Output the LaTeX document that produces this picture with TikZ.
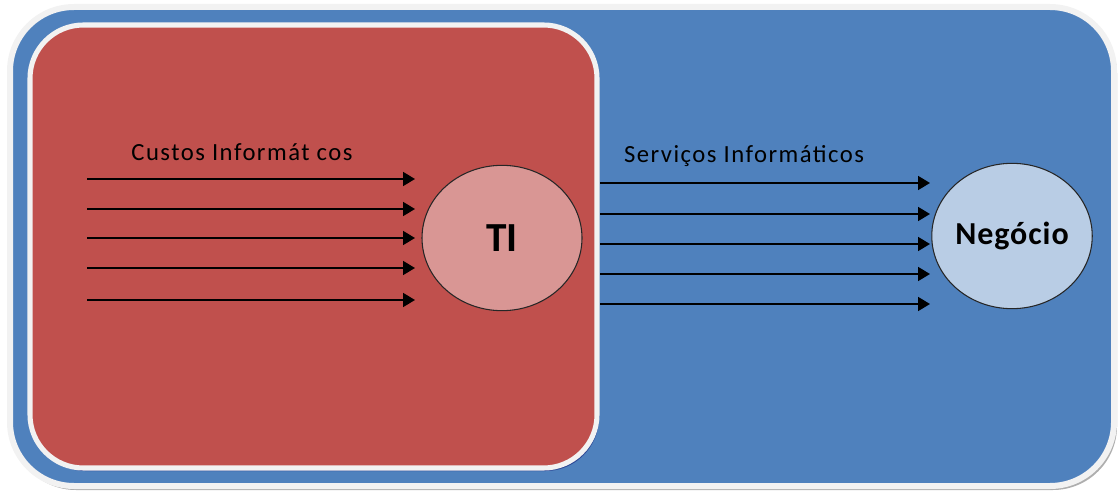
\documentclass[tikz,border=0pt]{standalone}
\usepackage{fontspec}
\setmainfont{Carlito}
\usetikzlibrary{shapes.geometric,arrows.meta}
\definecolor{azul}{HTML}{4F81BD}
\definecolor{vermelho}{HTML}{C0504D}
\definecolor{rosa}{HTML}{D99694}
\definecolor{azulclaro}{HTML}{B9CDE5}
\definecolor{borda}{HTML}{F2F2F2}
\begin{document}
\begin{tikzpicture}[x=0.75pt,y=-0.75pt]
    % Estilos
    \tikzset{
        caixa/.style={draw=borda, line width=4.5pt, rounded corners=48pt},
        sombra/.style={fill=black!70, opacity=0.45, rounded corners=48pt},
        circulo/.style={ellipse, draw=black!85, line width=0.8pt, minimum width=120pt, minimum height=109pt, inner sep=0pt, font=\bfseries},
        rotulo/.style={font=\fontsize{18.5}{22}\selectfont\addfontfeatures{LetterSpace=6}},
        seta/.style={-{Triangle[length=9pt,width=10.5pt]}, line width=1.3pt, draw=black}
    }
    \useasboundingbox (0,0) rectangle (1119,495);

    % Caixas
    \fill[sombra] (12,10) rectangle (1117,490);
    \draw[caixa, fill=azul] (10,7) rectangle (1114,486);
    \fill[sombra, rounded corners=40pt, fill=black!60!blue] (32,28) rectangle (599,471);
    \draw[caixa, fill=vermelho, line width=3.8pt, rounded corners=40pt] (30,25) rectangle (597,468);

    % Nos
    \node[circulo, fill=rosa, font=\bfseries\fontsize{31}{34}\selectfont] (ti) at (502,238) {TI};
    \node[circulo, fill=azulclaro, font=\bfseries\fontsize{24}{28}\selectfont\addfontfeatures{LetterSpace=3}] (negocio) at (1012,236) {Negócio};
    \node[rotulo] (custos) at (242,152) {Custos Informát cos};
    \node[rotulo] (servicos) at (744,156) {Serviços Informáticos};

    % Custos (entrada)
    \coordinate (c1) at (87,179);  \coordinate (t1) at (415,179);
    \coordinate (c2) at (87,209);  \coordinate (t2) at (415,209);
    \coordinate (c3) at (87,238);  \coordinate (t3) at (415,238);
    \coordinate (c4) at (87,268);  \coordinate (t4) at (415,268);
    \coordinate (c5) at (87,300);  \coordinate (t5) at (415,300);
    \draw[seta] (c1) -- (t1);
    \draw[seta] (c2) -- (t2);
    \draw[seta] (c3) -- (t3);
    \draw[seta] (c4) -- (t4);
    \draw[seta] (c5) -- (t5);

    % Servicos (saida)
    \coordinate (s1) at (600,183);  \coordinate (n1) at (930,183);
    \coordinate (s2) at (600,214);  \coordinate (n2) at (930,214);
    \coordinate (s3) at (600,244);  \coordinate (n3) at (930,244);
    \coordinate (s4) at (600,274);  \coordinate (n4) at (930,274);
    \coordinate (s5) at (600,304);  \coordinate (n5) at (930,304);
    \draw[seta] (s1) -- (n1);
    \draw[seta] (s2) -- (n2);
    \draw[seta] (s3) -- (n3);
    \draw[seta] (s4) -- (n4);
    \draw[seta] (s5) -- (n5);
\end{tikzpicture}
\end{document}
